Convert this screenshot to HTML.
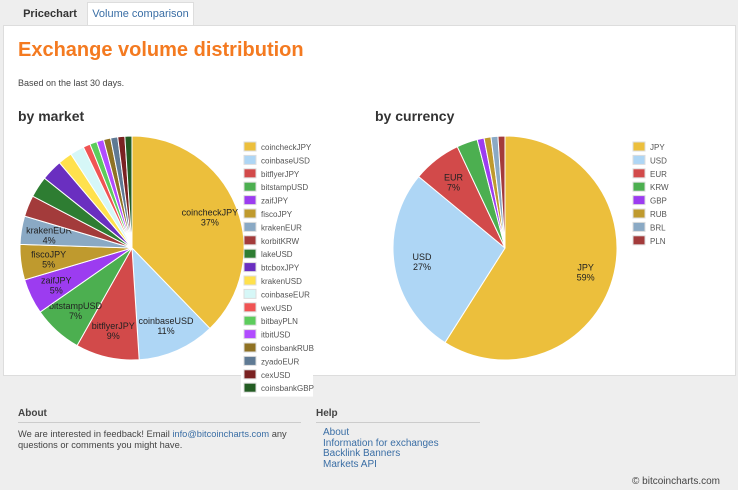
<!DOCTYPE html>
<html><head><meta charset="utf-8"><style>
body{margin:0;width:738px;height:490px;background:#eeeeee;font-family:"Liberation Sans",sans-serif;position:relative;overflow:hidden}
.tab{position:absolute;top:3px;height:22px;font-size:11px;font-weight:bold;line-height:22px;text-align:center}
#card{position:absolute;left:3px;top:25px;width:731px;height:349px;background:#fff;border:1px solid #ddd}
h1{position:absolute;left:18px;top:39px;margin:0;font-size:20px;color:#f47a20;font-weight:bold}
.sub{position:absolute;left:18px;top:78px;font-size:9px;color:#444}
h2{position:absolute;margin:0;font-size:14px;color:#333;font-weight:bold}
svg{position:absolute;left:0;top:0}
.foot{position:absolute;font-size:10px;color:#444}
a{color:#3a6ea5;text-decoration:none}
</style></head><body>
<div class="tab" style="left:14px;width:72px;color:#333">Pricechart</div>
<div class="tab" style="left:87px;width:105px;background:#fff;color:#3a6ea5;border:1px solid #ddd;border-bottom:none;top:2px;height:24px;font-weight:normal">Volume comparison</div>
<div id="card"></div>
<h1>Exchange volume distribution</h1>
<div class="sub">Based on the last 30 days.</div>
<h2 style="left:18px;top:108px">by market</h2>
<h2 style="left:375px;top:108px">by currency</h2>
<svg id="chart" width="738" height="490"></svg>
<div class="foot" style="left:18px;top:408px;font-weight:bold;font-size:10px">About</div>
<div style="position:absolute;left:18px;top:422px;width:283px;border-top:1px solid #ccc"></div>
<div class="foot" style="left:18px;top:429px;width:290px;line-height:11px;font-size:9.3px">We are interested in feedback! Email <a>info@bitcoincharts.com</a> any questions or comments you might have.</div>
<div class="foot" style="left:316px;top:408px;font-weight:bold">Help</div>
<div style="position:absolute;left:316px;top:422px;width:164px;border-top:1px solid #ccc"></div>
<div class="foot" style="left:323px;top:428px;line-height:10.5px">
<a>About</a><br><a>Information for exchanges</a><br><a>Backlink Banners</a><br><a>Markets API</a></div>
<div class="foot" style="right:18px;top:476px">© bitcoincharts.com</div>
<script>
const marketNames=["coincheckJPY","coinbaseUSD","bitflyerJPY","bitstampUSD","zaifJPY","fiscoJPY","krakenEUR","korbitKRW","lakeUSD","btcboxJPY","krakenUSD","coinbaseEUR","wexUSD","bitbayPLN","itbitUSD","coinsbankRUB","zyadoEUR","cexUSD","coinsbankGBP"];
const marketValues=[37,11,9,7,5,5,4,3,3,3,2,2,1,1,1,1,1,1,1];
const marketColors=["#ecbf3c","#aed6f5","#d24a4a","#4caf50","#9c3cf0","#bf9a2e","#8aa9c4","#a33b3b","#2e7d32","#6a2fc0","#ffe14d","#d6f7f7","#f05454","#5ccc5c","#b14cff","#8f7224","#5f7a94","#7a2222","#235c23"];
const currencyNames=["JPY","USD","EUR","KRW","GBP","RUB","BRL","PLN"];
const currencyValues=[59,27,7,3,1,1,1,1];
const currencyColors=["#ecbf3c","#aed6f5","#d24a4a","#4caf50","#9c3cf0","#bf9a2e","#8aa9c4","#a33b3b"];
const NS="http://www.w3.org/2000/svg";
const svg=document.getElementById('chart');
function mk(t,a){const e=document.createElementNS(NS,t);for(const k in a)e.setAttribute(k,a[k]);return e;}
function pie(names,vals,cols,cx,cy,r,lx,ly,minLabel,prefix){
  const tot=vals.reduce((a,b)=>a+b,0);let a0=0;
  const lb=mk('rect',{x:lx-3,y:ly-7,width:prefix==='market'?72:40,height:names.length*13.4+2,fill:'#fff'});
  
  
  svg.appendChild(lb);
  vals.forEach((v,i)=>{
    const a1=a0+v/tot*2*Math.PI;
    const x0=cx+r*Math.sin(a0),y0=cy-r*Math.cos(a0),x1=cx+r*Math.sin(a1),y1=cy-r*Math.cos(a1);
    const p=mk('path',{d:`M${cx},${cy}L${x0},${y0}A${r},${r} 0 ${a1-a0>Math.PI?1:0} 1 ${x1},${y1}Z`,fill:cols[i],stroke:'#fff','stroke-width':1});
    
    
    svg.appendChild(p);
    const pct=Math.round(v);
    if(pct>=minLabel){
      const am=(a0+a1)/2,rr=r*0.75;
      const tx=cx+rr*Math.sin(am),ty=cy-rr*Math.cos(am);
      const t=mk('text',{x:tx,y:ty-1,'font-size':9,'text-anchor':'middle',fill:'#222','font-family':'Liberation Sans, sans-serif'});
      t.textContent=names[i];
      
      
      svg.appendChild(t);
      const t2=mk('text',{x:tx,y:ty+9,'font-size':9,'text-anchor':'middle',fill:'#222','font-family':'Liberation Sans, sans-serif'});
      t2.textContent=pct+'%';
      
      
      svg.appendChild(t2);
    }
    const y=ly+i*13.4;
    const s=mk('rect',{x:lx,y:y-5,width:12,height:9,fill:cols[i],stroke:'#ddd','stroke-width':1});
    
    
    svg.appendChild(s);
    const lt=mk('text',{x:lx+17,y:y+3,'font-size':8,fill:'#555','font-family':'Liberation Sans, sans-serif'});
    lt.textContent=names[i];
    
    
    svg.appendChild(lt);
    a0=a1;
  });
}
pie(marketNames,marketValues,marketColors,132,248,112,244,147,4,'market');
pie(currencyNames,currencyValues,currencyColors,505,248,112,633,147,5,'currency');
</script>
</body></html>
